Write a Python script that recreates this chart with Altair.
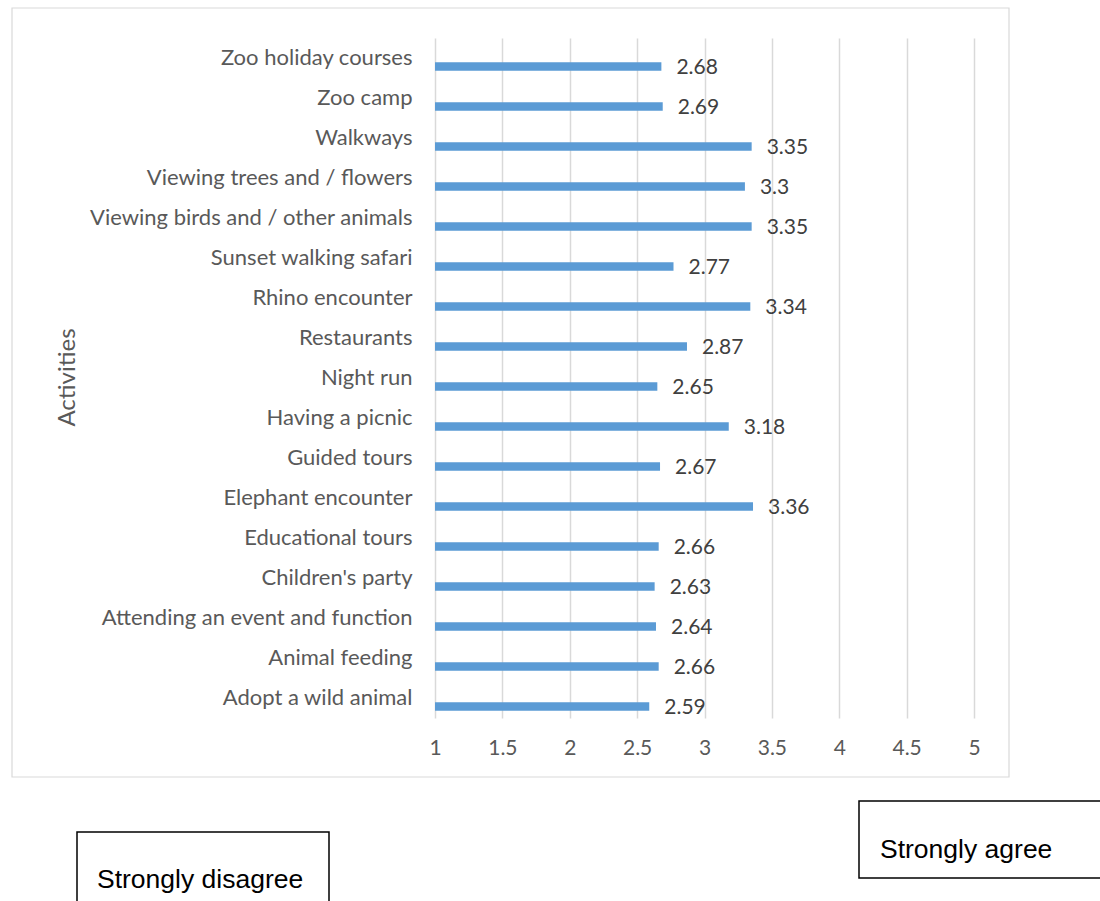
import altair as alt
import pandas as pd

# Mean agreement score per activity (1 = strongly disagree, 5 = strongly agree)
activities = [
    "Zoo holiday courses",
    "Zoo camp",
    "Walkways",
    "Viewing trees and / flowers",
    "Viewing birds and / other animals",
    "Sunset walking safari",
    "Rhino encounter",
    "Restaurants",
    "Night run",
    "Having a picnic",
    "Guided tours",
    "Elephant encounter",
    "Educational tours",
    "Children's party",
    "Attending an event and function",
    "Animal feeding",
    "Adopt a wild animal",
]
scores = [2.68, 2.69, 3.35, 3.3, 3.35, 2.77, 3.34, 2.87, 2.65, 3.18,
          2.67, 3.36, 2.66, 2.63, 2.64, 2.66, 2.59]
x_ticks = [1, 1.5, 2, 2.5, 3, 3.5, 4, 4.5, 5]

df = pd.DataFrame({"activity": activities, "score": scores})

FONT = "Lato"
GREY = "#595959"
BLUE = "#5b9bd5"

x_enc = alt.X(
    "score:Q",
    scale=alt.Scale(domain=[1, 5], zero=False, nice=False),
    axis=alt.Axis(
        values=x_ticks, format="~g", title=None, grid=True, gridColor="#d9d9d9",
        gridWidth=1.5, domain=False, ticks=False, labelFontSize=21,
        labelColor=GREY, labelFont=FONT, labelPadding=19, labelFlush=False,
    ),
)
y_enc = alt.Y(
    "activity:N",
    sort=activities,
    scale=alt.Scale(paddingInner=0, paddingOuter=0),
    axis=alt.Axis(
        title="Activities", titleFont=FONT, titleFontSize=24,
        titleFontWeight="normal", titleColor=GREY, titleAngle=-90,
        titleX=-368, titleY=339, titleAlign="center", titleBaseline="middle",
        domain=False, ticks=False, grid=False, labelFontSize=22,
        labelColor=GREY, labelFont=FONT, labelPadding=23, labelLimit=500,
    ),
)

base = alt.Chart(df)

bars = base.mark_bar(color=BLUE, size=8.5, yOffset=8.5).encode(
    x=x_enc, x2=alt.datum(1), y=y_enc
)

labels = base.mark_text(
    align="left", baseline="middle", dx=15, dy=10,
    font=FONT, fontSize=21, color="#404040",
).encode(x="score:Q", y=alt.Y("activity:N", sort=activities), text=alt.Text("score:Q"))

one = pd.DataFrame({"k": [0]})

# outer chart-area frame
frame = alt.Chart(one).mark_rect(fill="transparent", stroke="#d9d9d9", strokeWidth=1.2).encode(
    x=alt.value(-423), x2=alt.value(574), y=alt.value(-30), y2=alt.value(739)
)

# scale-end caption boxes
box_dis = alt.Chart(one).mark_rect(fill="white", stroke="black", strokeWidth=1.5).encode(
    x=alt.value(-358), x2=alt.value(-106), y=alt.value(794), y2=alt.value(900)
)
txt_dis = alt.Chart(one).mark_text(
    align="left", baseline="middle", font="Liberation Sans", fontSize=26.5, color="black"
).encode(x=alt.value(-338), y=alt.value(842), text=alt.value("Strongly disagree"))

box_agr = alt.Chart(one).mark_rect(fill="white", stroke="black", strokeWidth=1.5).encode(
    x=alt.value(424), x2=alt.value(700), y=alt.value(763), y2=alt.value(840)
)
txt_agr = alt.Chart(one).mark_text(
    align="left", baseline="middle", font="Liberation Sans", fontSize=26.5, color="black"
).encode(x=alt.value(445), y=alt.value(812), text=alt.value("Strongly agree"))

chart = (
    alt.layer(frame, bars, labels, box_dis, txt_dis, box_agr, txt_agr)
    .properties(
        width=539, height=680,
        autosize=alt.AutoSizeParams(type="none"),
        padding={"left": 435, "top": 38, "right": 126, "bottom": 183},
        background="white",
    )
    .configure_view(stroke="transparent")
)

chart.save("out.html", embed_options={"renderer": "svg", "actions": False})
